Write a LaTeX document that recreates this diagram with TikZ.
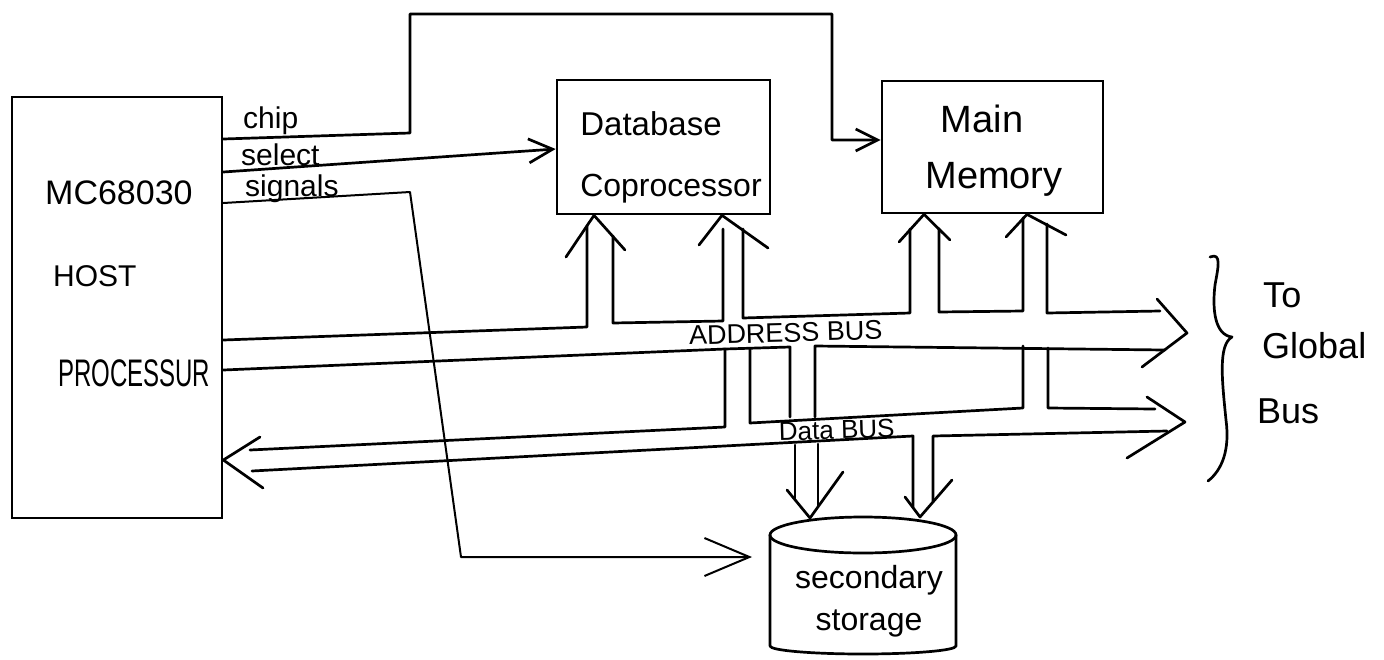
\documentclass[tikz,border=0pt]{standalone}
\usepackage{fontspec}
\setmainfont{Liberation Sans}
\usetikzlibrary{arrows.meta}
\newcommand\fsz[1]{\fontsize{#1}{#1}\selectfont}
\tikzset{
  ln/.style={line width=2.7pt, line join=round, line cap=round},
  thinln/.style={line width=2pt, line join=round, line cap=round},
  box/.style={draw, line width=2.7pt, rectangle, inner sep=0pt},
  lbl/.style={inner sep=0pt, anchor=base west},
  clbl/.style={inner sep=0pt, anchor=base},
  barb/.style={-{Straight Barb[length=#1,width=#1]}},
}
\begin{document}
\begin{tikzpicture}[x=1pt,y=-1pt]
\path[use as bounding box, fill=white] (0,0) rectangle (1384,659);

% boxes
\node[box, minimum width=210pt, minimum height=421pt] (host) at (117,307.5) {};
\node[box, minimum width=213pt, minimum height=134pt] (db) at (663.5,147) {};
\node[box, minimum width=221pt, minimum height=132pt] (mm) at (992.5,147) {};

% labels in boxes
\node[lbl, font=\fsz{34}] (t1) at (45,204) {MC68030};
\node[lbl, font=\fsz{30}] (t2) at (53,286) {HOST};
\node[lbl, font=\fsz{24}] (t3) at (58,386) {\scalebox{1}[1.6]{PROCESSUR}};
\node[clbl, font=\fsz{33}] (t4) at (651,135) {Database};
\node[clbl, font=\fsz{32}] (t5) at (671,196) {Coprocessor};
\node[clbl, font=\fsz{38}] (t6) at (982,132) {Main};
\node[clbl, font=\fsz{38}] (t7) at (994,188) {Memory};

% chip select signals
\node[lbl, font=\fsz{30}] (cs1) at (243,128) {chip};
\node[lbl, font=\fsz{30}] (cs2) at (241,165) {select};
\node[lbl, font=\fsz{30}] (cs3) at (245,196) {signals};

% secondary storage cylinder
\coordinate (stin) at (752,557);
\draw[ln] (863,535) ellipse [x radius=93pt, y radius=18pt];
\draw[ln] (770,535) -- (770,646) arc[start angle=180, end angle=360, x radius=93pt, y radius=8pt] -- (956,535);
\node[clbl, font=\fsz{32}] (st1) at (869,588) {secondary};
\node[clbl, font=\fsz{32}] (st2) at (869,630) {storage};

% chip select connectors
\draw[ln, barb=22pt] (host.east |- 0,139) -- (410,133) -- (410,14) -- (832,14) -- (832,140) -- (mm.west |- 0,140);
\draw[ln, barb=24pt] (host.east |- 0,172) -- (db.west |- 0,149);
\draw[thinln, -{Straight Barb[length=45pt,width=38pt]}] (host.east |- 0,203) -- (410,192) -- (461,557) -- (stin);

% ---- address bus ----
\draw[ln] (host.east |- 0,340) -- (587,327) -- (587,226);
\draw[ln] (613,236) -- (613,323) -- (723,321) -- (723,229);
\draw[ln] (743,229) -- (743,318) -- (910,313) -- (910,229);
\draw[ln] (939,229) -- (939,312) -- (1023,311) -- (1023,218);
\draw[ln] (1047,224) -- (1047,313) -- (1160,311);
\draw[ln] (host.east |- 0,370) -- (725,349) -- (790,347) -- (790,417);
\draw[ln] (815,417) -- (815,346) -- (1165,350);
\draw[ln] (1157,299) -- (1187,333) -- (1142,367);
\node[clbl, font=\fsz{27}, rotate=1.5] (abus) at (786,342) {ADDRESS BUS};

% up arrowheads
\draw[ln] (566,257) -- (db.south -| 594,0) -- (625,250);
\draw[ln] (699,245) -- (db.south -| 722,0) -- (768,248);
\draw[ln] (899,242) -- (mm.south -| 924,0) -- (950,240);
\draw[ln] (1006,237) -- (mm.south -| 1027,0) -- (1066,235);

% ---- data bus ----
\draw[ln] (725,349) -- (725,427) -- (250,450);
\draw[ln] (750,349) -- (750,423) -- (1023,408) -- (1023,346);
\draw[ln] (1048,348) -- (1048,408) -- (1155,409);
\draw[ln] (252,471) -- (913,436) -- (913,507);
\draw[ln] (933,501) -- (933,436) -- (1167,431);
\draw[ln] (260,437) -- (host.east |- 0,460) -- (263,488);
\draw[ln] (1147,397) -- (1185,422) -- (1127,458);
\node[clbl, font=\fsz{26}, rotate=1.5] (dbus) at (837,439) {Data BUS};

% down arrows to storage
\draw[ln] (795,445) -- (795,499);
\draw[ln] (818,444) -- (818,506);
\draw[ln] (787,490) -- (810,518) -- (843,472);
\draw[ln] (905,497) -- (920,517) -- (952,480);

% global bus brace
\draw[ln] (1210,257) .. controls (1222,252) and (1218,268) .. (1215,285)
  .. controls (1212,310) and (1215,335) .. (1232,337)
  .. controls (1218,345) and (1222,380) .. (1226,420)
  .. controls (1230,450) and (1222,470) .. (1208,481);
\node[lbl, font=\fsz{36}] (g1) at (1263,307) {To};
\node[lbl, font=\fsz{36}] (g2) at (1262,358) {Global};
\node[lbl, font=\fsz{36}] (g3) at (1257,423) {Bus};
\end{tikzpicture}
\end{document}
